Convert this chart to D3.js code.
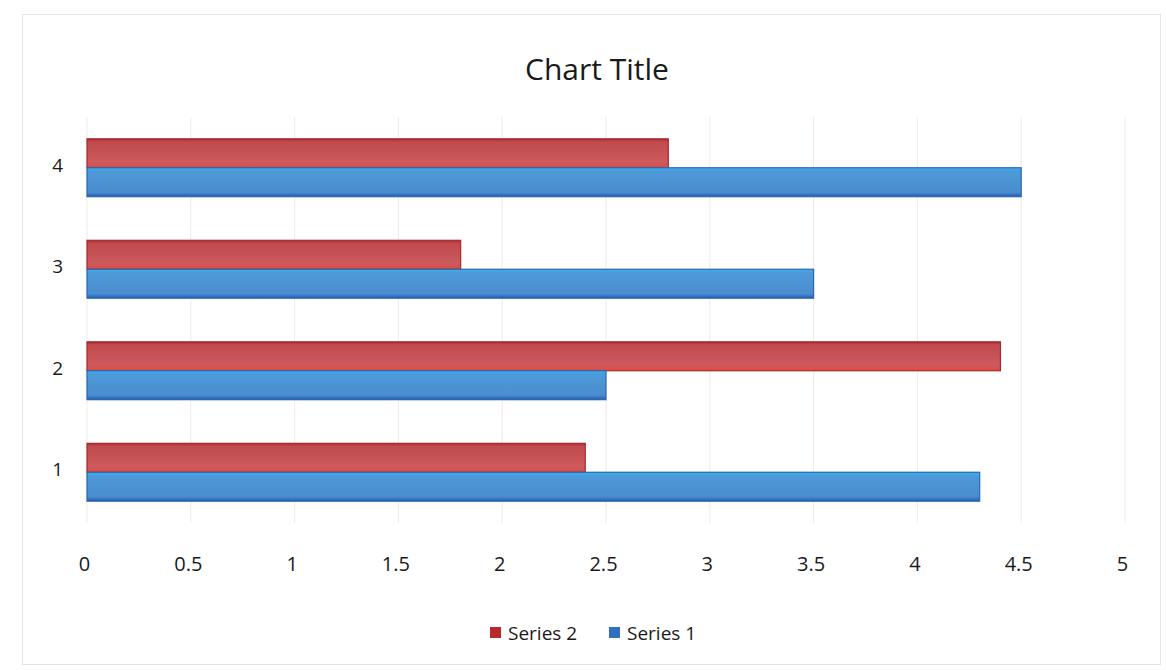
<!DOCTYPE html>
<html>
<head>
<meta charset="utf-8">
<script src="https://cdn.jsdelivr.net/npm/d3@7"></script>
<style>
  html, body { margin: 0; padding: 0; background: #ffffff; }
  svg { display: block; font-family: "Open Sans", "Noto Sans", sans-serif; }
</style>
</head>
<body>
<svg id="chart" width="1166" height="670"></svg>
<script>
// Chart data
const categories = ["1", "2", "3", "4"];
const seriesNames = ["Series 2", "Series 1"];   // top-to-bottom within each category
const series1 = [4.3, 2.5, 3.5, 4.5];
const series2 = [2.4, 4.4, 1.8, 2.8];
const xTicks = [0, 0.5, 1, 1.5, 2, 2.5, 3, 3.5, 4, 4.5, 5];
const xTickLabels = ["0", "0.5", "1", "1.5", "2", "2.5", "3", "3.5", "4", "4.5", "5"];
const chartTitle = "Chart Title";

const valuesBySeries = { "Series 1": series1, "Series 2": series2 };

const svg = d3.select("#chart");

// Chart area border
svg.append("rect")
  .attr("x", 22.5).attr("y", 14.5)
  .attr("width", 1138).attr("height", 650)
  .attr("fill", "#ffffff")
  .attr("stroke", "#e6e2e2").attr("stroke-width", 1);

// Gradients for the bar fills
const defs = svg.append("defs");
const gradRed = defs.append("linearGradient").attr("id", "gRed")
  .attr("x1", 0).attr("y1", 0).attr("x2", 0).attr("y2", 1);
gradRed.append("stop").attr("offset", "0%").attr("stop-color", "#a8282c");
gradRed.append("stop").attr("offset", "10%").attr("stop-color", "#c04a4e");
gradRed.append("stop").attr("offset", "80%").attr("stop-color", "#cc5a5e");
gradRed.append("stop").attr("offset", "100%").attr("stop-color", "#e04a3c");

const gradBlue = defs.append("linearGradient").attr("id", "gBlue")
  .attr("x1", 0).attr("y1", 0).attr("x2", 0).attr("y2", 1);
gradBlue.append("stop").attr("offset", "0%").attr("stop-color", "#36b2f0");
gradBlue.append("stop").attr("offset", "12%").attr("stop-color", "#4e9ad8");
gradBlue.append("stop").attr("offset", "85%").attr("stop-color", "#4a8ccf");
gradBlue.append("stop").attr("offset", "100%").attr("stop-color", "#1f5eae");

const fills = { "Series 1": "url(#gBlue)", "Series 2": "url(#gRed)" };
const strokes = { "Series 1": "#2a66b4", "Series 2": "#a8282c" };
const legendColors = { "Series 1": "#2f6fbf", "Series 2": "#b8282c" };

// Plot area
const plot = { left: 87, right: 1125, top: 117, bottom: 523 };

const x = d3.scaleLinear()
  .domain([xTicks[0], xTicks[xTicks.length - 1]])
  .range([plot.left, plot.right]);

// Category 1 at the bottom
const y = d3.scaleBand()
  .domain(categories.slice().reverse())
  .range([plot.top, plot.bottom])
  .paddingInner(0.43)
  .paddingOuter(0.215);

const yInner = d3.scaleBand()
  .domain(seriesNames)
  .range([0, y.bandwidth()]);

// Vertical gridlines
svg.append("g")
  .selectAll("line")
  .data(xTicks)
  .join("line")
  .attr("x1", d => x(d)).attr("x2", d => x(d))
  .attr("y1", plot.top).attr("y2", plot.bottom)
  .attr("stroke", "#f6e8e8").attr("stroke-width", 1);

// Bars
const groups = svg.append("g")
  .selectAll("g")
  .data(categories)
  .join("g")
  .attr("transform", d => `translate(0,${y(d)})`);

groups.selectAll("rect")
  .data((c, i) => seriesNames.map(s => ({ s, v: valuesBySeries[s][i] })))
  .join("rect")
  .attr("x", x(0))
  .attr("y", d => yInner(d.s))
  .attr("width", d => x(d.v) - x(0))
  .attr("height", yInner.bandwidth())
  .attr("fill", d => fills[d.s])
  .attr("stroke", d => strokes[d.s])
  .attr("stroke-width", 1.2);

// X axis (labels only)
const xAxis = d3.axisBottom(x)
  .tickValues(xTicks)
  .tickFormat((d, i) => xTickLabels[i])
  .tickSize(0)
  .tickPadding(0);

const gx = svg.append("g")
  .attr("transform", `translate(-3,${plot.bottom + 34})`)
  .call(xAxis);
gx.select(".domain").remove();
gx.selectAll("text")
  .attr("font-size", 20)
  .attr("fill", "#1a1a1a")
  .attr("font-family", "Open Sans, sans-serif");

// Y axis (labels only)
const yAxis = d3.axisLeft(y).tickSize(0).tickPadding(0);
const gy = svg.append("g")
  .attr("transform", `translate(${plot.left - 24},-2)`)
  .call(yAxis);
gy.select(".domain").remove();
gy.selectAll("text")
  .attr("font-size", 19)
  .attr("fill", "#1a1a1a")
  .attr("font-family", "Open Sans, sans-serif");

// Title
svg.append("text")
  .attr("x", 597).attr("y", 80)
  .attr("text-anchor", "middle")
  .attr("font-size", 30)
  .attr("fill", "#1a1a1a")
  .text(chartTitle);

// Legend
const legend = svg.append("g").attr("transform", "translate(490,633)");
const legendItems = legend.selectAll("g")
  .data(seriesNames)
  .join("g")
  .attr("transform", (d, i) => `translate(${i * 119},0)`);
legendItems.append("rect")
  .attr("x", 0).attr("y", -6)
  .attr("width", 11).attr("height", 11)
  .attr("fill", d => legendColors[d]);
legendItems.append("text")
  .attr("x", 18).attr("y", 7)
  .attr("font-size", 19)
  .attr("fill", "#1a1a1a")
  .text(d => d);
</script>
</body>
</html>
